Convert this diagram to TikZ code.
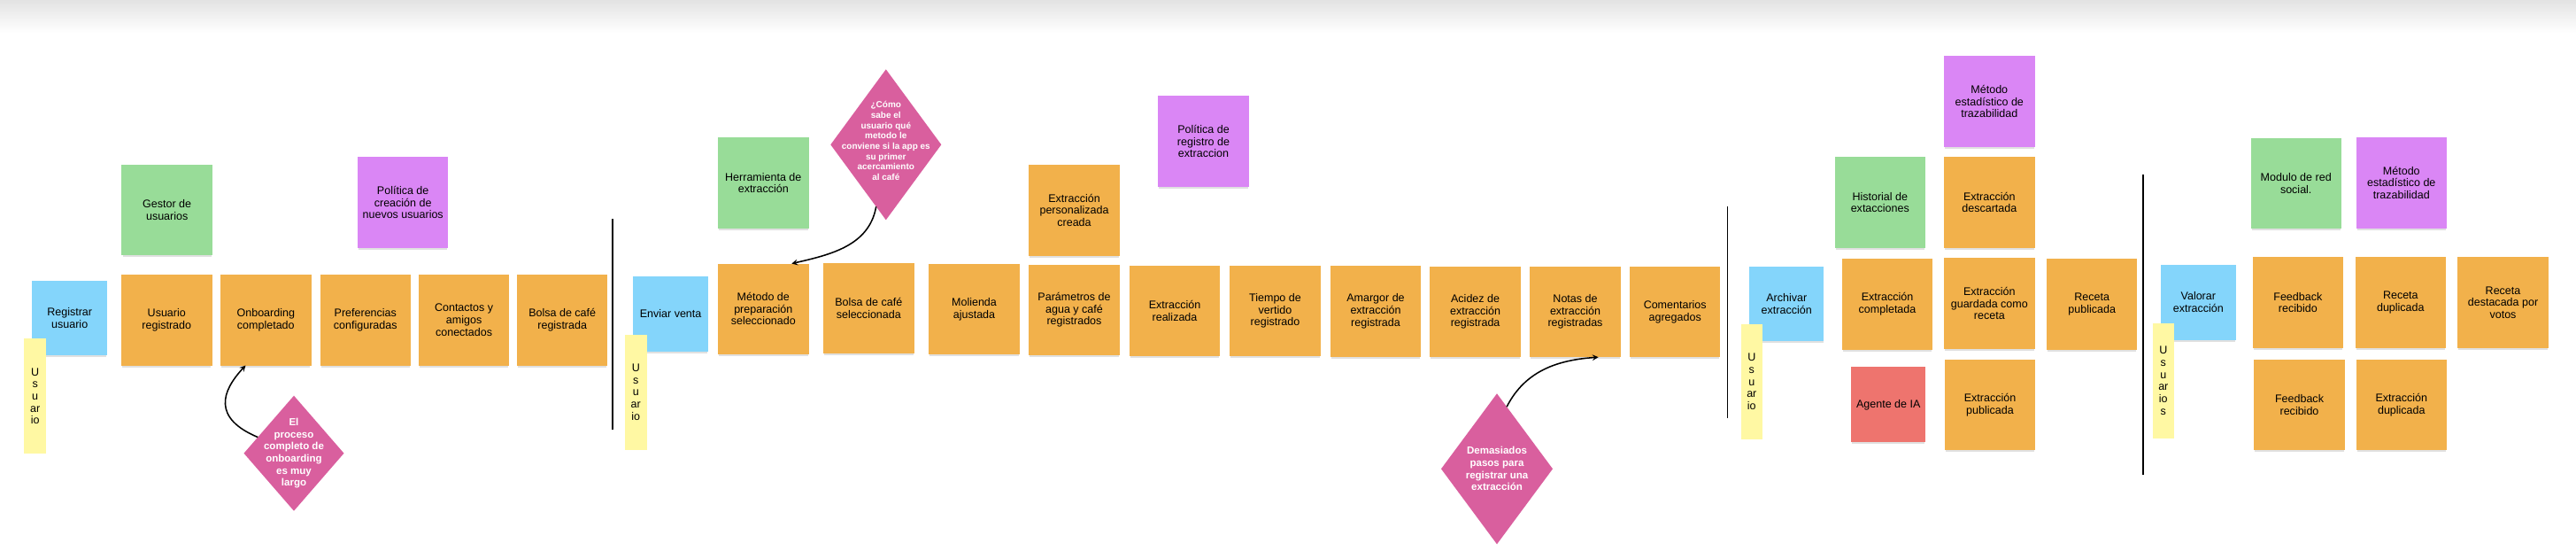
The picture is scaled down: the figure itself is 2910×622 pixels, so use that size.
\documentclass[tikz,border=0pt]{standalone}
\usepackage{fontspec}
\setmainfont{Liberation Sans}
\usetikzlibrary{shapes.geometric,shadows}

\definecolor{notanaranja}{RGB}{242,177,75}
\definecolor{notaverde}{RGB}{152,220,152}
\definecolor{notamorada}{RGB}{218,134,245}
\definecolor{notaazul}{RGB}{132,213,251}
\definecolor{notaamarilla}{RGB}{255,248,163}
\definecolor{notaroja}{RGB}{238,116,110}
\definecolor{notarosa}{RGB}{217,95,158}

\begin{document}
\begin{tikzpicture}[x=0.025cm,y=0.025cm,
    nota/.style={rectangle,minimum width=2.56cm,minimum height=2.56cm,inner sep=1pt,outer sep=0pt,
      align=center,font=\fontsize{8.9}{9.7}\selectfont,
      general shadow={fill=black,opacity=0.12,shadow yshift=-2.2pt,shadow scale=0.98}},
    evento/.style={nota,fill=notanaranja},
    sistema/.style={nota,fill=notaverde},
    politica/.style={nota,fill=notamorada},
    comando/.style={nota,fill=notaazul,minimum width=2.11cm,minimum height=2.11cm},
    agente/.style={nota,fill=notaroja,minimum width=2.1cm,minimum height=2.12cm},
    actor/.style={rectangle,fill=notaamarilla,minimum width=0.61cm,minimum height=3.25cm,inner sep=0pt,
      align=center,font=\fontsize{8.9}{9.75}\selectfont},
    problema/.style={diamond,fill=notarosa,inner sep=0pt,outer sep=0pt},
    problematexto/.style={text=white,align=center,font=\bfseries\fontsize{8.2}{9.7}\selectfont},
    separador/.style={line width=1.3pt},
    flecha/.style={line width=1.1pt,-stealth}]

    \useasboundingbox (0,0) rectangle (2910,622);
    \shade[top color=black!11,bottom color=white] (0,585) rectangle (2910,622);

    % registro de usuario
    \node[comando](registrar)at(78.7,263.2){Registrar\\usuario};
    \node[actor](usuario1)at(39.7,174.7){U\\s\\u\\ar\\io};
    \node[sistema](gestor)at(188.7,384.8){Gestor de\\usuarios};
    \node[politica](polcreacion)at(455.2,393.3){Política de\\creación de\\nuevos usuarios};
    \node[evento](uregistrado)at(188.3,260.7){Usuario\\registrado};
    \node[evento](onboarding)at(300.3,260.7){Onboarding\\completado};
    \node[evento](preferencias)at(412.8,260.7){Preferencias\\configuradas};
    \node[evento](contactos)at(524.1,260.7){Contactos y\\amigos\\conectados};
    \node[evento](bolsareg)at(635.2,260.7){Bolsa de café\\registrada};
    \node[problema,minimum width=2.825cm,minimum height=3.25cm](dudaonb)at(332,110.3){};
    \node[problematexto](dudaonbtxt)at(332,110.3){El\\proceso\\completo de\\onboarding\\es muy\\largo};
    \draw[separador] (692,137) to (692,375.3);

    % registro de extraccion
    \node[comando](venta)at(757.6,267.5){Enviar venta};
    \node[actor](usuario2)at(718.3,179.3){U\\s\\u\\ar\\io};
    \node[sistema](herramienta)at(862.3,415.3){Herramienta de\\extracción};
    \node[evento](metodo)at(862.3,273.2){Método de\\preparación\\seleccionado};
    \node[evento](bolsasel)at(981.3,274){Bolsa de café\\seleccionada};
    \node[evento](molienda)at(1100.5,273){Molienda\\ajustada};
    \node[evento](parametros)at(1213.5,272){Parámetros de\\agua y café\\registrados};
    \node[evento](personalizada)at(1213.5,384.7){Extracción\\personalizada\\creada};
    \node[evento](realizada)at(1327,271){Extracción\\realizada};
    \node[politica](polregistro)at(1359.5,462.5){Política de\\registro de\\extraccion};
    \node[evento](tiempo)at(1440.5,271){Tiempo de\\vertido\\registrado};
    \node[evento](amargor)at(1554,270.7){Amargor de\\extracción\\registrada};
    \node[evento](acidez)at(1666.6,270){Acidez de\\extracción\\registrada};
    \node[evento](notas)at(1779.5,270){Notas de\\extracción\\registradas};
    \node[evento](comentarios)at(1892.2,270){Comentarios\\agregados};
    \node[problema,minimum width=3.125cm,minimum height=4.25cm](dudametodo)at(1000.8,458.7){};
    \node[problematexto,font=\bfseries\fontsize{7.1}{8.3}\selectfont](dudametodotxt)at(1000.8,463)
      {¿Cómo\\sabe el\\usuario qué\\metodo le\\conviene si la app es\\su primer\\acercamiento\\al café};
    \node[problema,minimum width=3.15cm,minimum height=4.25cm](dudapasos)at(1691,92.7){};
    \node[problematexto](dudapasostxt)at(1691,92.7){Demasiados\\pasos para\\registrar una\\extracción};
    \draw[separador] (1951.5,150.3) to (1951.5,389.3);

    % archivo de extraccion
    \node[comando](archivar)at(2018.2,279.2){Archivar\\extracción};
    \node[actor](usuario3)at(1978.8,191){U\\s\\u\\ar\\io};
    \node[sistema](historial)at(2123.8,393.5){Historial de\\extacciones};
    \node[evento](descartada)at(2247.3,393.5){Extracción\\descartada};
    \node[politica](estadistico1)at(2247.3,507.3){Método\\estadístico de\\trazabilidad};
    \node[evento](completada)at(2132,278.7){Extracción\\completada};
    \node[evento](guardada)at(2247.3,279.5){Extracción\\guardada como\\receta};
    \node[evento](receta)at(2363.2,278.7){Receta\\publicada};
    \node[agente](agenteia)at(2133.2,165.2){Agente de IA};
    \node[evento](publicada)at(2248,165){Extracción\\publicada};
    \draw[separador] (2420.6,86.3) to (2420.6,425.3);

    % valoracion
    \node[comando](valorar)at(2483.3,280.7){Valorar\\extracción};
    \node[actor](usuario4)at(2443.8,192.3){U\\s\\u\\ar\\io\\s};
    \node[sistema](redsocial)at(2593.7,415.2){Modulo de red\\social.};
    \node[politica](estadistico2)at(2712.8,415.7){Método\\estadístico de\\trazabilidad};
    \node[evento](feedback1)at(2595.8,280.5){Feedback\\recibido};
    \node[evento](duplicada)at(2711.8,280.5){Receta\\duplicada};
    \node[evento](destacada)at(2827.5,280.5){Receta\\destacada por\\votos};
    \node[evento](feedback2)at(2597.5,164.8){Feedback\\recibido};
    \node[evento](extduplicada)at(2712.8,164.8){Extracción\\duplicada};

    \draw[flecha] (dudaonb.156) .. controls (240,150) and (250,180) .. (onboarding.246);
    \draw[flecha] (dudametodo.261) to[out=260,in=13] (metodo.58);
    \draw[flecha] (dudapasos.81) to[out=63,in=184] (notas.-63);
  \end{tikzpicture}
\end{document}
